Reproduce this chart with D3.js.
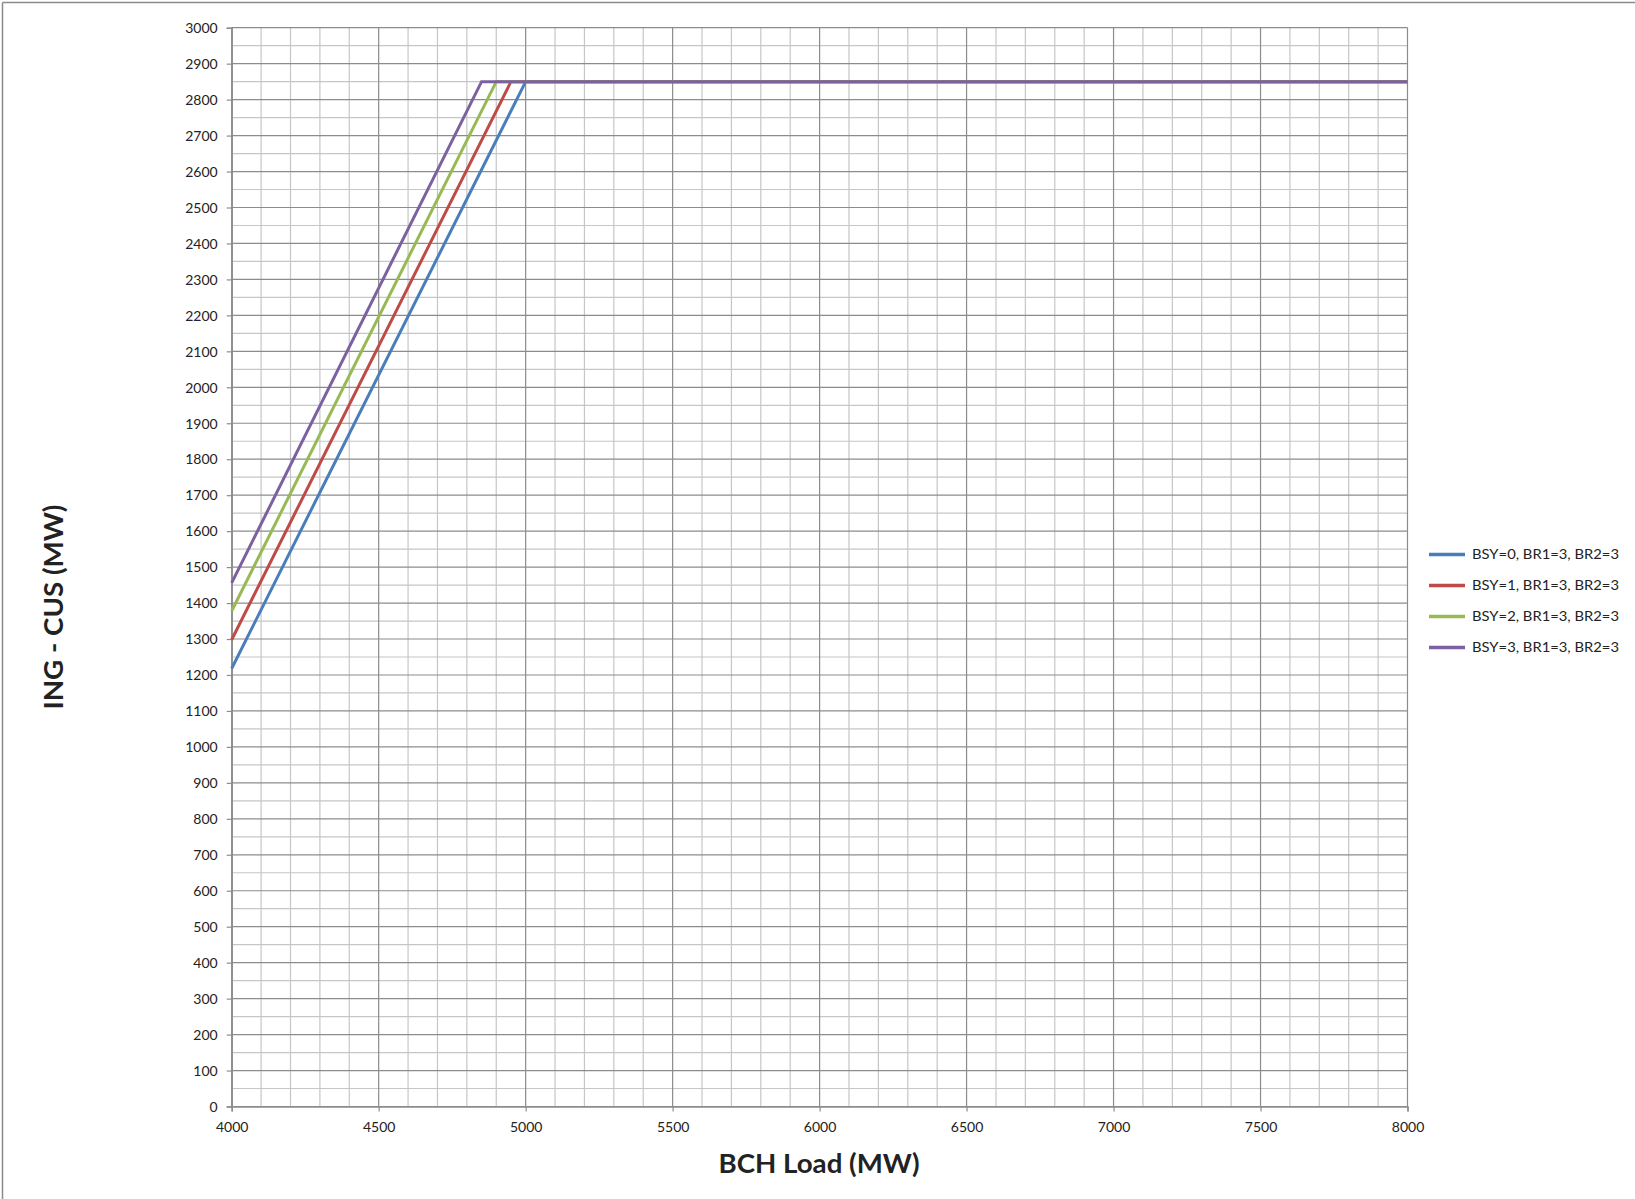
<!DOCTYPE html>
<html><head><meta charset="utf-8">
<script src="https://cdn.jsdelivr.net/npm/d3@7"></script>
<style>
html,body{margin:0;padding:0;background:#fff;}
svg{display:block;}
text{font-family:Lato,"Open Sans",sans-serif;fill:#222;}
</style></head>
<body>
<svg id="chart" width="1635" height="1199"></svg>
<script>
// ---- data ----
const seriesNames = ["BSY=0, BR1=3, BR2=3","BSY=1, BR1=3, BR2=3","BSY=2, BR1=3, BR2=3","BSY=3, BR1=3, BR2=3"];
const seriesColors = ["#4A7EBB","#BE4B48","#98B954","#7D60A0"];
const bsy0 = [[4000,1218],[5000,2850],[8000,2850]];
const bsy1 = [[4000,1298],[4950,2850],[8000,2850]];
const bsy2 = [[4000,1378],[4900,2850],[8000,2850]];
const bsy3 = [[4000,1456],[4850,2850],[8000,2850]];
const seriesData = [bsy0,bsy1,bsy2,bsy3];
const xTicks = [4000,4500,5000,5500,6000,6500,7000,7500,8000];
const yTicks = d3.range(0,3001,100);
const xMinor = d3.range(4000,8001,100);
const yMinor = d3.range(0,3001,50);

// ---- layout ----
const svg = d3.select("#chart");
const L=231.7, R=1407.5, T=27.7, B=1106.5;
const x = d3.scaleLinear().domain([4000,8000]).range([L,R]);
const y = d3.scaleLinear().domain([0,3000]).range([B,T]);

// outer border (top & left visible)
svg.append("line").attr("x1",2.5).attr("x2",1635).attr("y1",2.5).attr("y2",2.5).attr("stroke","#8a8a8a").attr("stroke-width",1.5);
svg.append("line").attr("x1",2.5).attr("x2",2.5).attr("y1",2.5).attr("y2",1199).attr("stroke","#8a8a8a").attr("stroke-width",1.5);

const g = svg.append("g");
// minor grid
g.append("g").selectAll("line").data(xMinor.filter(v=>v%500!==0)).join("line")
 .attr("x1",d=>x(d)).attr("x2",d=>x(d)).attr("y1",T).attr("y2",B).attr("stroke","#c6c6c6").attr("stroke-width",1.2);
g.append("g").selectAll("line").data(yMinor.filter(v=>v%100!==0)).join("line")
 .attr("x1",L).attr("x2",R).attr("y1",d=>y(d)).attr("y2",d=>y(d)).attr("stroke","#c6c6c6").attr("stroke-width",1.2);
// major grid
g.append("g").selectAll("line").data(xTicks).join("line")
 .attr("x1",d=>x(d)).attr("x2",d=>x(d)).attr("y1",T).attr("y2",B).attr("stroke","#8c8c8c").attr("stroke-width",1.2);
g.append("g").selectAll("line").data(yTicks).join("line")
 .attr("x1",L).attr("x2",R).attr("y1",d=>y(d)).attr("y2",d=>y(d)).attr("stroke","#8c8c8c").attr("stroke-width",1.2);

// axes
const xAxis = d3.axisBottom(x).tickValues(xTicks).tickSize(5).tickPadding(11).tickFormat(d3.format("d"));
const yAxis = d3.axisLeft(y).tickValues(yTicks).tickSize(5).tickPadding(9).tickFormat(d3.format("d"));
const gx = svg.append("g").attr("transform",`translate(0,${B})`).call(xAxis);
const gy = svg.append("g").attr("transform",`translate(${L},0)`).call(yAxis);
[gx,gy].forEach(a=>{
  a.select(".domain").attr("stroke","#8c8c8c").attr("stroke-width",1.5);
  a.selectAll(".tick line").attr("stroke","#8c8c8c").attr("stroke-width",1.2);
  a.selectAll(".tick text").attr("font-family","Lato, 'Open Sans', sans-serif").attr("font-size",14).attr("fill","#222");
});
gy.selectAll(".tick text").attr("dy","0.34em");

// lines
const line = d3.line().x(d=>x(d[0])).y(d=>y(d[1]));
svg.append("g").selectAll("path").data(seriesData).join("path")
 .attr("d",line).attr("fill","none").attr("stroke",(d,i)=>seriesColors[i]).attr("stroke-width",3).attr("stroke-linejoin","miter");

// axis titles
svg.append("text").attr("x",819).attr("y",1173).attr("text-anchor","middle")
 .attr("font-weight","bold").attr("font-size",27).attr("fill","#111")
 .attr("textLength",201).attr("lengthAdjust","spacingAndGlyphs").text("BCH Load (MW)");
svg.append("text").attr("transform","translate(63,607) rotate(-90)").attr("text-anchor","middle")
 .attr("font-weight","bold").attr("font-size",26).attr("fill","#111")
 .attr("textLength",205).attr("lengthAdjust","spacingAndGlyphs").text("ING - CUS (MW)");

// legend
const leg = svg.append("g");
seriesNames.forEach((n,i)=>{
  const yy = 554.5 + i*31;
  leg.append("line").attr("x1",1429).attr("x2",1465).attr("y1",yy).attr("y2",yy)
   .attr("stroke",seriesColors[i]).attr("stroke-width",3.5);
  leg.append("text").attr("x",1472).attr("y",yy).attr("dy","0.36em").attr("font-size",13.5)
   .attr("textLength",147).attr("lengthAdjust","spacingAndGlyphs").text(n);
});
</script>
</body></html>
